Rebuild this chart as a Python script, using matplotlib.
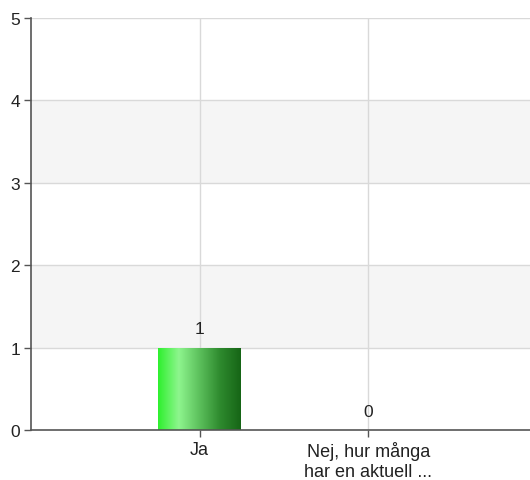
import matplotlib
matplotlib.use('Agg')
import matplotlib.pyplot as plt
import numpy as np
from matplotlib.colors import LinearSegmentedColormap

categories = ['Ja', 'Nej, hur många\nhar en aktuell ...']
values = [1, 0]
y_ticks = [0, 1, 2, 3, 4, 5]

plt.rcParams['font.family'] = ['Liberation Sans', 'DejaVu Sans']

fig = plt.figure(figsize=(5.30, 4.81), dpi=100)
ax = fig.add_axes([31 / 530, 50 / 481, 1 - 31 / 530, 412 / 481])

x = np.arange(len(categories))
ax.set_xlim(-1.0, 1.96)
ax.set_ylim(0, 5)

# alternating bands
for lo in range(0, 5):
    if lo % 2 == 1:
        ax.axhspan(lo, lo + 1, color='#f5f5f5', zorder=0, lw=0)
for t in y_ticks[1:]:
    ax.axhline(t, color='#d9d9d9', lw=1, zorder=1)
for xi in x:
    ax.axvline(xi, color='#d9d9d9', lw=1, zorder=1)

# gradient bars
green = LinearSegmentedColormap.from_list(
    'g', ['#2ef02e', '#8ef58e', '#5cc05c', '#2e8a2e', '#166516'])
grad = np.linspace(0, 1, 256).reshape(1, -1)
width = 0.49
bars = ax.bar(x, values, width=width, color='none', zorder=2)
for b, v in zip(bars, values):
    if v <= 0:
        continue
    x0 = b.get_x()
    im = ax.imshow(grad, cmap=green, aspect='auto', zorder=2,
                   extent=[x0, x0 + b.get_width(), 0, v])
    im.set_clip_path(b)

for xi, v in zip(x, values):
    ax.annotate(str(v), (xi, v), xytext=(0, 8), textcoords='offset points',
                ha='center', va='bottom', fontsize=12.5, color='#222222')

ax.set_xticks(x)
ax.set_xticklabels(categories, fontsize=13, color='#222222', linespacing=1.2)
ax.set_yticks(y_ticks)
ax.set_yticklabels([str(t) for t in y_ticks], fontsize=12.5, color='#222222')
ax.tick_params(axis='both', length=5, width=1, color='#555555', pad=3)

for s in ['top', 'right']:
    ax.spines[s].set_visible(False)
for s in ['left', 'bottom']:
    ax.spines[s].set_color('#555555')
    ax.spines[s].set_linewidth(1.2)
    ax.spines[s].set_zorder(3)

fig.savefig('out.png', dpi=100)
